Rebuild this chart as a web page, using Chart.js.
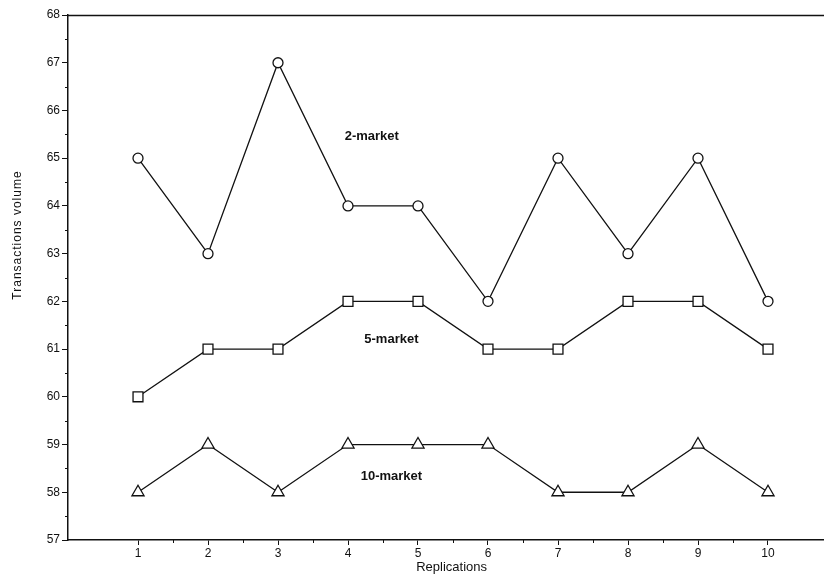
<!DOCTYPE html>
<html>
<head>
<meta charset="utf-8">
<script src="https://cdn.jsdelivr.net/npm/chart.js@4/dist/chart.umd.min.js"></script>
<style>
  html, body { margin: 0; padding: 0; background: #fff; }
  #wrap { width: 824px; height: 576px; position: relative; }
</style>
</head>
<body>
<div id="wrap"><canvas id="c" width="824" height="576"></canvas></div>
<script>
// Replications 1..10
const replications = [1, 2, 3, 4, 5, 6, 7, 8, 9, 10];
// Transactions volume per market configuration
const twoMarket = [65, 63, 67, 64, 64, 62, 65, 63, 65, 62];
const fiveMarket = [60, 61, 61, 62, 62, 61, 61, 62, 62, 61];
const tenMarket = [58, 59, 58, 59, 59, 59, 58, 58, 59, 58];
// In-plot series labels: [text, x, y] in data units
const seriesLabels = [
  ['2-market', 4.34, 65.45],
  ['5-market', 4.62, 61.2],
  ['10-market', 4.62, 58.34]
];
const yTicks = [57, 58, 59, 60, 61, 62, 63, 64, 65, 66, 67, 68];

const toPoints = arr => arr.map((v, i) => ({ x: replications[i], y: v }));
const FONT = 'Liberation Sans, Arial, sans-serif';
const INK = '#111';

const frame = {
  id: 'frame',
  afterDraw(chart) {
    const { ctx, chartArea: a, scales: { x, y } } = chart;
    ctx.save();
    ctx.strokeStyle = INK;
    ctx.lineWidth = 1.5;
    // top border line across the full width
    ctx.beginPath();
    ctx.moveTo(a.left, a.top + 0.5);
    ctx.lineTo(chart.width, a.top + 0.5);
    ctx.stroke();
    // minor ticks at half steps
    ctx.lineWidth = 1;
    ctx.beginPath();
    for (let v = 57.5; v < 68; v += 1) {
      const py = Math.round(y.getPixelForValue(v)) + 0.5;
      ctx.moveTo(a.left - 3, py);
      ctx.lineTo(a.left, py);
    }
    for (let v = 1.5; v < 10; v += 1) {
      const px = Math.round(x.getPixelForValue(v)) + 0.5;
      ctx.moveTo(px, a.bottom);
      ctx.lineTo(px, a.bottom + 3);
    }
    ctx.stroke();
    // series labels
    ctx.fillStyle = INK;
    ctx.font = 'bold 13px ' + FONT;
    ctx.textAlign = 'center';
    ctx.textBaseline = 'middle';
    seriesLabels.forEach(([t, vx, vy]) => {
      ctx.fillText(t, x.getPixelForValue(vx), y.getPixelForValue(vy));
    });
    // axis titles
    ctx.font = '13px ' + FONT;
    ctx.fillText('Replications', x.getPixelForValue(5.48), 567);
    ctx.font = '12px ' + FONT;
    ctx.letterSpacing = '1px';
    ctx.translate(18, 235);
    ctx.rotate(-Math.PI / 2);
    ctx.fillText('Transactions volume', 0, 0);
    ctx.restore();
  }
};

const common = {
  borderColor: INK,
  borderWidth: 1.3,
  pointBackgroundColor: '#fff',
  pointBorderColor: INK,
  pointBorderWidth: 1.3,
  tension: 0,
  fill: false
};

new Chart(document.getElementById('c'), {
  type: 'line',
  data: {
    datasets: [
      { ...common, label: '2-market', data: toPoints(twoMarket), pointStyle: 'circle', pointRadius: 5 },
      { ...common, label: '5-market', data: toPoints(fiveMarket), pointStyle: 'rect', pointRadius: 7 },
      { ...common, label: '10-market', data: toPoints(tenMarket), pointStyle: 'triangle', pointRadius: 7 }
    ]
  },
  options: {
    responsive: false,
    animation: false,
    events: [],
    layout: { autoPadding: false, padding: { top: 15, right: 0, bottom: 0, left: 0 } },
    plugins: { legend: { display: false }, tooltip: { enabled: false } },
    scales: {
      x: {
        type: 'linear',
        min: 0,
        max: 10.8,
        afterBuildTicks: s => { s.ticks = replications.map(v => ({ value: v })); },
        afterFit: s => { s.height = 36; },
        ticks: { color: INK, font: { family: FONT, size: 12 }, padding: 1, callback: v => String(v), maxRotation: 0 },
        grid: { drawOnChartArea: false, drawTicks: true, tickLength: 5, color: INK, lineWidth: 1 },
        border: { display: true, color: INK, width: 1.5 }
      },
      y: {
        type: 'linear',
        min: 57,
        max: 68,
        afterBuildTicks: s => { s.ticks = yTicks.map(v => ({ value: v })); },
        afterFit: s => { s.width = 68; },
        ticks: { color: INK, font: { family: FONT, size: 12 }, padding: 2 },
        grid: { drawOnChartArea: false, drawTicks: true, tickLength: 6, color: INK, lineWidth: 1 },
        border: { display: true, color: INK, width: 1.5 }
      }
    }
  },
  plugins: [frame]
});
</script>
</body>
</html>
